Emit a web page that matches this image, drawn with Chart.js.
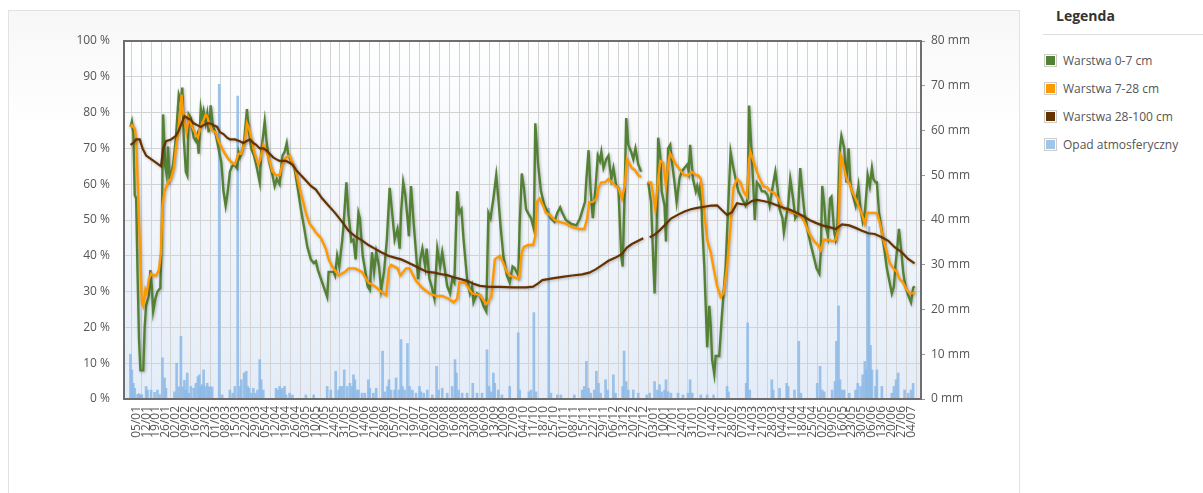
<!DOCTYPE html>
<html>
<head>
<meta charset="utf-8">
<script src="https://cdn.jsdelivr.net/npm/chart.js@4.4.1/dist/chart.umd.min.js"></script>
<style>
  html, body { margin: 0; padding: 0; background: #fff; }
  body { width: 1203px; height: 493px; position: relative; overflow: hidden; font-family: "Open Sans", sans-serif; }
  #card { position: absolute; left: 8px; top: 10px; width: 1012px; height: 500px; border: 1px solid #e2e2e2; box-sizing: border-box;
          background: linear-gradient(to bottom, #f7f7f7 0px, #ffffff 120px); }
  #chartbox { position: absolute; left: 8px; top: 10px; width: 1013px; height: 483px; }
  #legend { position: absolute; left: 1043px; top: 0; width: 160px; }
  #legend h3 { margin: 0; padding: 6px 0 0 13px; height: 28px; font-size: 14px; font-weight: bold; color: #333; line-height: 20px; border-bottom: 1px solid #ddd; }
  .item { position: absolute; left: 1px; height: 14px; font-size: 12px; color: #555; line-height: 14px; white-space: nowrap; }
  .sw { display: inline-block; width: 9px; height: 9px; padding: 1px; border: 1px solid #ccc; background-clip: content-box; vertical-align: top; margin-right: 6px; }
</style>
</head>
<body>
<div id="card"></div>
<div id="chartbox"><canvas id="c"></canvas></div>
<div id="legend">
  <h3>Legenda</h3>
  <div class="item" style="top:54px"><span class="sw" style="background-color:#548235"></span>Warstwa 0-7 cm</div>
  <div class="item" style="top:82px"><span class="sw" style="background-color:#ff9900"></span>Warstwa 7-28 cm</div>
  <div class="item" style="top:110px"><span class="sw" style="background-color:#663300"></span>Warstwa 28-100 cm</div>
  <div class="item" style="top:138px"><span class="sw" style="background-color:#9fc5e8"></span>Opad atmosferyczny</div>
</div>
<script>
// ---- tick labels (weekly) ----
const tickLabels = ["05/01","12/01","19/01","26/01","02/02","09/02","16/02","23/02","01/03","08/03","15/03","22/03","29/03","05/04","12/04","19/04","26/04","03/05","10/05","17/05","24/05","31/05","07/06","14/06","21/06","28/06","05/07","12/07","19/07","26/07","02/08","09/08","16/08","23/08","30/08","06/09","13/09","20/09","27/09","04/10","11/10","18/10","25/10","01/11","08/11","15/11","22/11","29/11","06/12","13/12","20/12","27/12","03/01","10/01","17/01","24/01","31/01","07/02","14/02","21/02","28/02","07/03","14/03","21/03","28/03","04/04","11/04","18/04","25/04","02/05","09/05","16/05","23/05","30/05","06/06","13/06","20/06","27/06","04/07"];
const firstTickDay = 4;   // day index of 05/01 (day 0 = 01/01)
const tickStep = 7;

// ---- Warstwa 0-7 cm (%) ----
const greenDays = [0,1,2,3,4,5,6,7,9,10,11,13,14,15,16,17.5,19,21,22,23,24.5,25.5,26.5,27.5,29,30,32,33,34,35.5,36.5,37.5,39,40,41,42.5,43.5,44.5,46,47,48,49.5,50.5,51.5,53,54,55,56.5,58,60,62,64,65.5,67,68.5,70,71.5,73,75,76,77,78.5,80,82,83.5,85,87,89,91,92,93.5,94.5,95.5,97.5,100,101.5,103,105,107,108.5,110,111,113,115.5,117.5,120,122,124.5,127,129,130.5,132,135,138.5,139.5,143,144,145.5,147,149,150,152,153.5,155.5,157,158.5,160.5,161.5,163.5,165,167,168.5,170,171.5,173,175,176.5,178.5,180.5,182.5,184,186,188,189.5,190.5,192,193.5,195,196,197.5,199.5,201,202.5,204,205.5,207.5,208.5,210.5,212,214,216,218,219.5,221,223,225,226.5,228,230,231.5,233,234.5,237,239,240.5,241.5,244,246,248.5,250.5,252,253.5,255.5,257.5,259,260.5,262.5,265,267,269,270.5,273,274,275.5,277,278.5,280.5,282,284,285,287,289,291.5,294,296,298.5,300.5,302.5,304,306.5,310,314,316.5,318,320,321,322.5,324,325.5,327.5,329,330.5,331.5,333,335,336.5,338.5,340,342,343.5,345.5,346.5,348,349,350.5,352.5,354,355.5,357.5,359.5,362,364.5,366.5,368,369,370.5,371.5,373,374,376,377,378.5,380,381,383,384.5,386.5,388,390,392,393,394,396,398,399,400.5,401.5,402.5,404,405,406,407.5,408.5,409.5,411,412,414.5,416.5,419,420.5,422.5,424,426,428,430.5,433,434.5,435.5,437,438.5,439.5,441,443,444.5,446.5,448.5,450,452,454,455.5,457,459,460,461.5,463,464.5,466.5,468,470,471.5,473,474.5,477,479,481.5,483,485,486,487,488.5,489.5,491,492.5,493.5,495.5,496.5,497.5,499.5,500.5,502.5,504,505.5,507,508.5,510.5,512.5,514,515.5,517,518,519,520.5,522,523,524.5,525.5,527,529,531,532.5,534,536,537.5,538.5,540,541,542.5,544,545.5,547.5,549.5,551,552];
const greenVals = [76,77.5,74.5,57,56,35,17,8,8,20,26,29,36,31.5,24.5,28,30,31,45,79.5,65,62.5,70.5,61.5,63.5,65.5,73,79,85,83,87,73,63.5,62.5,79.5,78.5,75.5,73,72,73.5,68.5,81,78.5,80.5,77,79.5,74.5,82,76.5,74,70,66,58,54,58,63.5,65,65.5,64.5,69,67.5,69,72,81,74.5,70,68,64.5,60.5,69,74,77.5,73,66.5,62.5,59.5,61.5,60,68,69,71.5,68.5,66.5,64.5,59.5,53,48.5,42.5,39,38,38.5,36,32.5,28.5,35.5,35.5,34.5,40,37,44,48.5,60.5,51.5,44,44.5,39,52,50.5,40,36.5,31.5,30.5,41,35.5,41,37,30.5,35.5,44.5,59,53,44.5,47.5,42,52,60.5,57,50.5,45.5,59.5,48.5,41,33.5,39,42,37,42,33.5,31.5,28,42,37,41,37,31.5,29.5,33.5,32.5,58,52,53,44.5,33.5,29.5,31.5,27,29.5,29,26,24.5,52,50.5,56,62.5,56,48.5,40,34.5,32.5,37,36.5,34.5,48.5,63,59,53,51.5,50.5,47.5,77,65.5,58,54,52,50.5,49.5,52,53.5,52,50,49,48.5,50.5,52.5,55,61.5,69.5,58,50.5,59.5,68,66.5,69,64.5,67,68,61.5,64.5,59.5,59,40,37,59,78.5,71,69,67,70,65.5,63.5,null,60.5,55,39,29.5,48.5,73,68,58,54,44,70,71,67,60.5,55,61.5,63.5,64.5,65.5,63.5,71,61.5,58,59.5,57,60.5,48.5,37,26,14.5,26,20.5,11,7,12,12,24,37,51,69,65.5,61.5,58,56,54,56,82,71,59.5,50,60.5,59.5,58,58,57,54,59,63.5,59,53,50.5,46.5,50.5,54,61.5,56,50.5,52,64.5,58,52,46.5,43,39,36.5,35,41,59.5,54,48.5,45.5,56,56.5,46.5,44.5,46.5,70,73.5,70,60.5,70,59.5,57,54,59.5,53,49.5,52,57,62.5,59.5,64.5,61.5,60.5,60.5,52,46.5,41,36.5,33.5,29.5,31.5,37,43,47.5,42,35.5,31.5,29,27,31,31.5];

// ---- Warstwa 7-28 cm (%) ----
const orangeDays = [0,1,3,4,5,6.5,8,9,10.5,11.5,13,14.5,16.5,18,20,21.5,22.5,24,25,26.5,28.5,30.5,32,33.5,35,36,37,38.5,39.5,41,42.5,44,46,47.5,49,51,53,54,56,57.5,60,62,64.5,66.5,69,71.5,73.5,76,78,80.5,82,83.5,85,87.5,90,91.5,93.5,95,97.5,100,102.5,105,107,109.5,112,114,116.5,119,121,123.5,126,128,130.5,134,137.5,139.5,142,146.5,151,153.5,158,163,167.5,172,178,180,182,183.5,188,190,194,196.5,201,205.5,210.5,215,219.5,224,227.5,230,231.5,235.5,240.5,246,250.5,254,256.5,260,262.5,265,267,270.5,273.5,275.5,277,280,283.5,285,286,288,290.5,292.5,295,298.5,302,306.5,311,316,319.5,321.5,323,325.5,328,329.5,331.5,334,336.5,339,341.5,343.5,346,348,349.5,351,353,355,357.5,359.5,362,364,366.5,368,369.5,371.5,373,375,377,379,380,382,384,387,390,392.5,395,398,399.5,401.5,404,406,408.5,411,413,415.5,417.5,420,422.5,424.5,427,429.5,431.5,434,435.5,436.5,438.5,441,443,445.5,448.5,450.5,453.5,456,458.5,460.5,463,465,467.5,470,472,474.5,477,479,481.5,484,486,488,490,492,494,496.5,498.5,500,501,503,504.5,506,508,510.5,512.5,515,517,518.5,521,524.5,526,528,530,532.5,534.5,537,539.5,541.5,544,546.5,548.5,551,552];
const orangeVals = [76,76.5,75.5,73,61.5,44.5,27,26,30.5,29.5,33.5,35,34.5,34.5,36,41,54,58,59,60.5,61.5,64.5,70,74.5,80.5,85,80.5,76.5,74.5,78.5,77,75.5,74,73,75.5,77.5,79.5,79,76,75,74.5,72,70,68.5,67,66,65.5,68.5,68.5,72,77,75.5,73,68.5,65.5,67,71,70,67,63.5,62.5,62.5,65.5,67.5,68,66,63.5,59,56,52,49,48,46.5,45,42,39,37,34.5,35.5,36.5,36.5,35.5,32.5,31.5,29.5,29,36.5,37.5,36.5,34.5,36.5,36.5,33,31,29.5,28.8,28.8,28,27,28,32.5,32.5,29.5,29,26.5,28.5,39,40,38,35.5,34.5,34,33.5,41,42.5,43,43,45.5,55,56,54,52,51.5,50,49.5,49,48,47.5,47.5,50.5,55,55,56,59,60.5,60.5,61.5,60.5,59.5,59,56,59.5,67,66,64.5,64,62.5,62,null,60.5,60.5,57,53,61.5,66.5,66,59.5,67,68.5,67,65.5,64,62.5,62.5,63.5,62.5,62.5,61.5,52,44.5,41,35.5,31.5,28.5,29.5,37,48.5,59,61.5,60.5,58,56.5,67,69,66.5,63.5,61.5,59.5,59,58,57.5,56,54,53,53,52,52,51.5,51,49.5,47,45.5,44,43,41.5,44.5,44.5,44.5,44,44.5,47.5,68,67,63.5,61,60.5,58,56,54,51.5,49,52,52,52,51.5,48.5,44.5,41,38,36.5,35.5,33.5,32.5,30.5,29.5,29.5,30];

// ---- Warstwa 28-100 cm (%) ----
const brownDays = [0,2,4,6.5,8.5,11,14.5,18,21.5,23,25,28.5,32,34,36.5,38,40,42.5,44.5,47,49.5,51.5,54,56,58.5,61,63,65.5,68,70,73.5,77,79.5,81.5,84,86.5,88.5,91,93.5,95.5,98,100.5,102.5,105,109.5,112,114,116.5,120,123.5,127,130.5,135,139.5,144,149,153.5,158,163,167.5,172,176.5,181.5,186,190.5,195,200,204.5,209,214,218.5,223,227.5,232.5,237,241.5,246,251,255.5,260,269.5,278.5,283.5,287,290,297,304,311,318,323,327.5,332,336.5,341.5,346,349.5,353,357.5,361,363,365.5,369,372.5,376,380.5,385.5,390,394.5,399,404,408.5,413,416.5,420,423.5,427,430.5,434,437.5,441,445.5,450,455,459.5,464,468.5,473.5,478,482.5,487,492,496.5,501,506,510.5,515,519.5,524,529,533.5,538,543,547.5,552];
const brownVals = [71,71.5,72.5,72.5,70,68,67,66,65,70,72,72.5,73.5,75,77.5,79,78.5,78,77,76.5,76,76.5,77,77,76.5,76,74.5,74,73,72.5,72.5,72,71.5,72,72.5,71.5,71,70,70,69.5,68.5,67.5,67,66.5,66.5,66,65.5,64,62.5,61,59.5,58.5,56,54,52,49.5,47,45.5,44.3,43,42,41,40,39.5,39,38.2,37.2,36.3,35.5,35.3,34.9,34.6,34,33.5,33,32.2,31.6,31.4,31.3,31.3,31.2,31.2,31.4,32.3,33.2,33.7,34.1,34.5,34.8,35.3,36.2,37.4,38.6,39.5,40.5,42.3,43.3,44.2,44.9,null,45.2,45.9,47.1,48.5,50.4,51.5,52.4,53,53.4,53.7,54,54.1,52.7,51.4,52.2,54.7,54.4,54.4,55.3,55.6,55.3,54.9,54.1,53.4,52.9,52.1,51.1,50,49.2,48.5,48,47.5,48.8,48.5,47.8,47,46.3,46.1,45.2,44.2,42.4,41,39.1,37.9];

// ---- Opad atmosferyczny (mm) ----
const rainDays = [0,1,2,3,5,6,7,8,11,12,14.5,17,19,20.5,22.5,24,25,31,32.5,34,35.5,37,38,39,40,41,42.5,44.5,46,47.5,48.5,49.5,50.5,51.5,52.5,54,55,56,57.5,62.5,64.5,70,72,73.5,75.5,77,78,80,81.5,82.5,83.5,85,86.5,88,89.5,91,92,93.5,102.5,103.5,105,106,107,108.5,109.5,112,114,123.5,129,138.5,141,144.5,146.5,147.5,149,150.5,152.5,154.5,156,157,158,159.5,160.5,163,165,167.5,168.5,171,173,177.5,179,181,182,183.5,186,187,189,190.5,191.5,193,195,196.5,198.5,201,203.5,204.5,206.5,209,212.5,215.5,217,219.5,223,226.5,228.5,229.5,231,233.5,237,241,244,247.5,251,252.5,254,255.5,256.5,259,261.5,267,273,274,280.5,282,284,285.5,294.5,296,300.5,303,312.5,318,319.5,321,322.5,324,326.5,328,329.5,331,334.5,336,340,341.5,346.5,347.5,349,350.5,354,357.5,363.5,365.5,369,371,372.5,374,376,377,378.5,380.5,385.5,389,392.5,394,395.5,401.5,406,410.5,420,421,433.5,434.5,436,451.5,452.5,457,462,463,467.5,470.5,472,483.5,485.5,487,488.5,494,496,497,498.5,499.5,501,502.5,506,510.5,512,514,515.5,517,518,519,520,521,522,524.5,525.5,529,536,537.5,539,540.5,545,547.5,549.5,551];
const rainVals = [10,6.5,3.5,2.4,1,1.2,0.8,1,2.8,2,2,1.5,2,1,9.2,4.7,2.4,1.6,8,2.7,14,2.7,4.2,2,5.8,1.3,2.8,2.4,3.5,5,5.4,2.8,3.2,6.5,2.8,3.5,2.7,2.7,2.7,70.3,0.9,2,1.3,2.8,67.7,2.8,4.3,5.8,6.2,2.8,2.4,1.3,2.4,1.3,2,8.8,4.3,2,2.4,2,2.8,2,2.4,2.8,0.9,1.3,0.9,0.9,0.9,2.8,2,6.2,2,2.8,2.8,6.5,2.8,3.5,2.8,5.4,4.3,2,2,1.3,1.3,4.3,2.4,1.3,2.4,10.7,1.6,2.8,4.3,2,2,4.7,2,13.3,2.8,2,12.4,2.8,2,1.3,2.8,1.6,1.3,2,0.9,7.3,2,2.4,1.3,2.8,8.8,5.8,2,1.3,1.3,3.5,1.3,1.3,11,2.8,1.6,5.8,3.5,2,0.9,2.8,14.8,2,1.6,2,19.3,1.6,42.6,1.3,0.9,0.9,0.9,2,2.8,8.4,2.4,1.3,2,6.2,3.5,1.3,4.3,2,5.4,1.3,2.8,10.7,3.9,2,2,1.3,0.9,1.3,3.9,2,3.2,1.6,2,4.3,1.6,1.3,1.3,0.9,1.3,4.3,1.3,0.9,0.9,0.9,2.8,1.6,3.5,17,2,4.3,2,2.4,3.5,2.8,2,12.9,1.3,3.5,7.3,2,1.6,2,3.9,12.9,20.8,4.3,2,2,1.3,2,3.5,2.8,5.4,8.4,6.5,37,38.5,12,6.5,2.8,6.5,2.8,1.3,2.8,4.3,5.8,2,1.3,2,3.5,16.3];

const pts = (xs, ys) => xs.map((x, i) => ({ x: x, y: ys[i] }));

const plotBg = {
  id: 'plotBg',
  beforeDraw(chart) {
    const { ctx, chartArea: a } = chart;
    ctx.save();
    const g = ctx.createLinearGradient(0, a.top, 0, a.bottom);
    g.addColorStop(0, '#ffffff');
    g.addColorStop(1, '#e3ecf8');
    ctx.fillStyle = g;
    ctx.fillRect(a.left, a.top, a.right - a.left, a.bottom - a.top);
    ctx.restore();
  },
  afterDraw(chart) {
    const { ctx, chartArea: a } = chart;
    ctx.save();
    ctx.strokeStyle = '#6e6e6e';
    ctx.lineWidth = 2;
    ctx.strokeRect(a.left, a.top, a.right - a.left, a.bottom - a.top);
    ctx.restore();
  }
};

const lineShadow = {
  id: 'lineShadow',
  beforeDatasetDraw(chart, args) {
    if (args.meta.type !== 'line') return;
    const ctx = chart.ctx;
    ctx.save();
    ctx.shadowColor = 'rgba(0,0,0,0.28)';
    ctx.shadowBlur = 3;
    ctx.shadowOffsetX = 1;
    ctx.shadowOffsetY = 1;
  },
  afterDatasetDraw(chart, args) {
    if (args.meta.type !== 'line') return;
    chart.ctx.restore();
  }
};

const tickFont = { family: 'Open Sans', size: 12 };

new Chart(document.getElementById('c'), {
  data: {
    datasets: [
      { type: 'line', label: 'Warstwa 28-100 cm', data: pts(brownDays, brownVals), yAxisID: 'y', borderColor: '#663300', borderWidth: 2.2, pointRadius: 0, tension: 0, spanGaps: false, order: 0 },
      { type: 'line', label: 'Warstwa 7-28 cm', data: pts(orangeDays, orangeVals), yAxisID: 'y', borderColor: '#ff9900', borderWidth: 2.4, pointRadius: 0, tension: 0, spanGaps: false, order: 1 },
      { type: 'line', label: 'Warstwa 0-7 cm', data: pts(greenDays, greenVals), yAxisID: 'y', borderColor: '#548235', borderWidth: 2.4, pointRadius: 0, tension: 0, spanGaps: false, order: 2 },
      { type: 'bar', label: 'Opad atmosferyczny', data: pts(rainDays, rainVals), yAxisID: 'y1', backgroundColor: 'rgba(140,184,230,0.85)', borderWidth: 0, barThickness: 2, order: 3 }
    ]
  },
  options: {
    responsive: true,
    maintainAspectRatio: false,
    animation: false,
    layout: { padding: { top: 31, left: 0, right: 0, bottom: 0 } },
    plugins: { legend: { display: false }, tooltip: { enabled: false } },
    scales: {
      x: {
        type: 'linear', min: -1, max: 553,
        afterBuildTicks: (s) => { s.ticks = tickLabels.map((_, i) => ({ value: firstTickDay + tickStep * i })); },
        afterFit: (s) => { s.height = 94; },
        ticks: { autoSkip: false, maxRotation: 90, minRotation: 90, padding: 7, color: '#555', font: tickFont,
                 callback: (v, i) => tickLabels[i] },
        grid: { color: '#d3d3d3', lineWidth: 1, drawTicks: false },
        border: { display: false }
      },
      y: {
        position: 'left', min: 0, max: 100,
        afterFit: (s) => { s.width = 116; },
        ticks: { stepSize: 10, padding: 14, color: '#555', font: tickFont, callback: (v) => v + ' %' },
        grid: { color: '#d3d3d3', lineWidth: 1, drawTicks: false },
        border: { display: false }
      },
      y1: {
        position: 'right', min: 0, max: 80,
        afterFit: (s) => { s.width = 100; },
        ticks: { stepSize: 10, padding: 6, color: '#555', font: tickFont, callback: (v) => v + ' mm' },
        grid: { drawOnChartArea: false, drawTicks: true, tickLength: 4, color: '#999' },
        border: { display: false }
      }
    }
  },
  plugins: [plotBg, lineShadow]
});
</script>
</body>
</html>
